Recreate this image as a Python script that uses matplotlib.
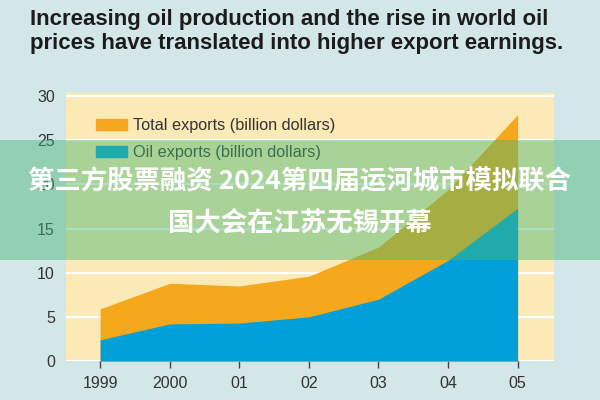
import matplotlib
matplotlib.use('Agg')
import matplotlib.pyplot as plt
from matplotlib.patches import Patch, Rectangle

# Data (billion dollars)
years = [1999, 2000, 2001, 2002, 2003, 2004, 2005]
year_labels = ['1999', '2000', '01', '02', '03', '04', '05']
total_exports = [5.9, 8.8, 8.5, 9.6, 12.9, 19.4, 27.9]
oil_exports = [2.4, 4.2, 4.3, 5.0, 7.0, 11.4, 17.3]

title = ('Increasing oil production and the rise in world oil\n'
         'prices have translated into higher export earnings.')
overlay_text = '第三方股票融资 2024第四届运河城市模拟联合\n国大会在江苏无锡开幕'

bg = '#d3e6e8'
cream = '#fbe9b6'
orange = '#f6a81d'
blue = '#02a0d9'
font = 'Liberation Sans'

fig = plt.figure(figsize=(6, 4), dpi=100, facecolor=bg)
ax = fig.add_axes([0.11, 0.0975, 0.813, 0.67])
ax.set_facecolor(cream)

ax.fill_between(years, 0, total_exports, color=orange, lw=0, zorder=3)
ax.fill_between(years, 0, oil_exports, color=blue, lw=0, zorder=4)

ax.set_xlim(1998.51, 2005.52)
ax.set_ylim(0, 30.35)
ax.set_yticks([0, 5, 10, 15, 20, 25, 30])
ax.set_xticks(years)
ax.set_xticklabels(year_labels)
ax.grid(axis='y', color='white', lw=1.6, zorder=1)
ax.set_axisbelow(True)
for s in ax.spines.values():
    s.set_visible(False)
ax.tick_params(axis='y', length=0, pad=8, labelsize=11.5, labelcolor='#333333')
ax.tick_params(axis='x', length=5, width=1, color='#444444', pad=6,
               labelsize=11.5, labelcolor='#333333')
for lab in ax.get_xticklabels() + ax.get_yticklabels():
    lab.set_family(font)

handles = [Patch(color=orange, label='Total exports (billion dollars)'),
           Patch(color=blue, label='Oil exports (billion dollars)')]
ax.legend(handles=handles, loc='upper left', bbox_to_anchor=(0.049, 0.93),
          frameon=False, handlelength=1.9, handleheight=0.68, handletextpad=0.38,
          labelspacing=0.72, borderaxespad=0,
          prop={'family': font, 'size': 11.7},
          labelcolor='#333333')

fig.text(0.05, 0.978, title, ha='left', va='top', fontsize=16,
         fontweight='bold', family=font, color='#1c1c1c',
         linespacing=1.17)

# semi-transparent green banner with white text
fig.patches.append(Rectangle((0, 0.35), 1, 0.3, transform=fig.transFigure,
                             facecolor='#45b773', alpha=0.45, lw=0, zorder=10))
fig.text(0.5, 0.494, overlay_text, ha='center', va='center', fontsize=19,
         fontweight='bold', color='white', linespacing=1.62, zorder=11,
         family=['Noto Sans CJK SC', 'DejaVu Sans'])

fig.savefig('out.png', dpi=100, facecolor=bg)
